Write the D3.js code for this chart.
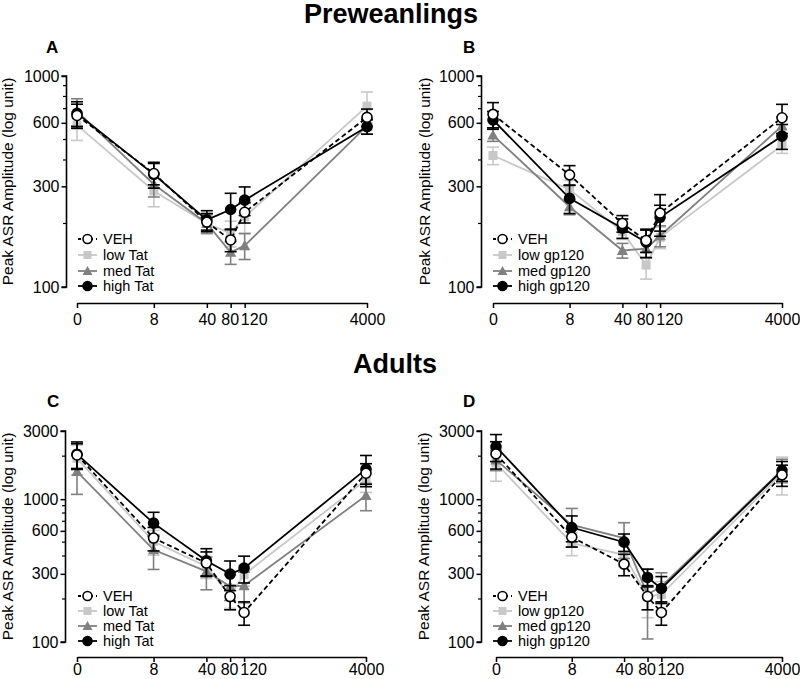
<!DOCTYPE html>
<html><head><meta charset="utf-8">
<script src="https://cdn.jsdelivr.net/npm/d3@7"></script>
<style>body{margin:0;background:#fff;}svg{display:block;font-family:"Liberation Sans",Arial,sans-serif;}</style>
</head><body>
<svg id="c" width="800" height="679"></svg>
<script>
const doses = [0, 8, 40, 80, 120, 4000];
const xTickLabels = ["0", "8", "40", "80", "120", "4000"];
const yTicksPre = [100, 300, 600, 1000];
const yTicksAdult = [100, 300, 600, 1000, 3000];
const groupsTat = ["VEH", "low Tat", "med Tat", "high Tat"];
const groupsGp = ["VEH", "low gp120", "med gp120", "high gp120"];
const sectionTitles = ["Preweanlings", "Adults"];
const panelLetters = ["A", "B", "C", "D"];
const yLabel = "Peak ASR Amplitude (log unit)";

// Panel A (Preweanlings, Tat)
const A_VEH  = [650, 345, 203, 167, 226, 637];
const A_low  = [585, 285, 200, 180, 215, 720];
const A_med  = [680, 307, 200, 146, 157, 580];
const A_high = [665, 342, 208, 233, 258, 575];
const A_VEH_err  = [85, 40, 20, 20, 25, 60];
const A_low_err  = [90, 45, 22, 25, 35, 120];
const A_med_err  = [100, 40, 20, 18, 22, 50];
const A_high_err = [90, 48, 22, 45, 40, 45];

// Panel B (Preweanlings, gp120)
const B_VEH  = [658, 340, 200, 166, 224, 634];
const B_low  = [420, 290, 183, 127, 172, 470];
const B_med  = [525, 240, 149, 152, 175, 580];
const B_high = [619, 263, 190, 163, 214, 519];
const B_VEH_err  = [90, 36, 18, 20, 50, 100];
const B_low_err  = [40, 30, 15, 18, 20, 40];
const B_med_err  = [35, 20, 12, 15, 20, 60];
const B_high_err = [60, 40, 20, 25, 30, 70];

// Panel C (Adults, Tat)
const C_VEH  = [2040, 534, 357, 208, 161, 1520];
const C_low  = [1930, 505, 338, 212, 296, 1365];
const C_med  = [1560, 442, 312, 245, 248, 1060];
const C_high = [2064, 679, 370, 299, 329, 1622];
const C_VEH_err  = [400, 100, 70, 40, 30, 250];
const C_low_err  = [450, 100, 60, 40, 50, 250];
const C_med_err  = [480, 120, 80, 50, 60, 230];
const C_high_err = [450, 130, 80, 70, 70, 400];

// Panel D (Adults, gp120)
const D_VEH  = [2074, 542, 351, 208, 161, 1479];
const D_low  = [1786, 492, 408, 208, 215, 1520];
const D_med  = [1883, 661, 534, 215, 245, 1603];
const D_high = [2333, 633, 500, 283, 237, 1585];
const D_VEH_err  = [450, 80, 60, 40, 30, 250];
const D_low_err  = [450, 90, 70, 60, 50, 450];
const D_med_err  = [300, 200, 150, 110, 60, 300];
const D_high_err = [500, 130, 70, 40, 50, 250];

const styles = [
  {color: "#000", fill: "#fff", shape: "circle", dash: "5,3"},
  {color: "#c8c8c8", fill: "#c8c8c8", shape: "square", dash: null},
  {color: "#808080", fill: "#808080", shape: "triangle", dash: null},
  {color: "#000", fill: "#000", shape: "circle", dash: null}
];

const panels = [
  {letter: panelLetters[0], names: groupsTat, vals: [A_VEH, A_low, A_med, A_high], errs: [A_VEH_err, A_low_err, A_med_err, A_high_err],
   yAxisX: 66.5, xr: [77, 367], yr: [287, 76], yd: [100, 1000], xAxisY: 303, ticks: yTicksPre, letterPos: [46, 53], ylabX: 13, legX: 78, legY: [239, 255, 271, 286], xlabY: 325},
  {letter: panelLetters[1], names: groupsGp, vals: [B_VEH, B_low, B_med, B_high], errs: [B_VEH_err, B_low_err, B_med_err, B_high_err],
   yAxisX: 481.5, xr: [493, 782], yr: [287, 76], yd: [100, 1000], xAxisY: 303, ticks: yTicksPre, letterPos: [463, 53], ylabX: 430, legX: 493, legY: [239, 255, 271, 286], xlabY: 325},
  {letter: panelLetters[2], names: groupsTat, vals: [C_VEH, C_low, C_med, C_high], errs: [C_VEH_err, C_low_err, C_med_err, C_high_err],
   yAxisX: 65.5, xr: [77, 366], yr: [642, 431], yd: [100, 3000], xAxisY: 657, ticks: yTicksAdult, letterPos: [47, 407], ylabX: 13, legX: 78, legY: [596, 611, 626, 641], xlabY: 675},
  {letter: panelLetters[3], names: groupsGp, vals: [D_VEH, D_low, D_med, D_high], errs: [D_VEH_err, D_low_err, D_med_err, D_high_err],
   yAxisX: 481.5, xr: [496, 782], yr: [642, 431], yd: [100, 3000], xAxisY: 657, ticks: yTicksAdult, letterPos: [463, 407], ylabX: 429, legX: 493, legY: [596, 611, 626, 641], xlabY: 675}
];
const xLabelShift = [0, 0, 0, -1, 9, 0];

const svg = d3.select("#c");

svg.append("text").attr("x", 391).attr("y", 23).attr("text-anchor", "middle")
  .attr("font-size", 27).attr("font-weight", "bold").text(sectionTitles[0]);
svg.append("text").attr("x", 395).attr("y", 373).attr("text-anchor", "middle")
  .attr("font-size", 27).attr("font-weight", "bold").text(sectionTitles[1]);

function marker(g, shape, cx, cy, st, size) {
  if (shape === "circle") {
    g.append("circle").attr("cx", cx).attr("cy", cy).attr("r", size)
      .attr("fill", st.fill).attr("stroke", st.color).attr("stroke-width", 1.6);
  } else if (shape === "square") {
    g.append("rect").attr("x", cx - size).attr("y", cy - size).attr("width", 2 * size).attr("height", 2 * size)
      .attr("fill", st.fill);
  } else {
    const s = size * 1.25;
    g.append("path").attr("d", `M${cx},${cy - s}L${cx + s},${cy + s * 0.8}L${cx - s},${cy + s * 0.8}Z`)
      .attr("fill", st.fill);
  }
}

panels.forEach(p => {
  const g = svg.append("g");
  const x = d3.scaleSymlog().constant(1).domain([0, 4000]).range(p.xr);
  const y = d3.scaleLog().domain(p.yd).range(p.yr);

  g.append("text").attr("x", p.letterPos[0]).attr("y", p.letterPos[1])
    .attr("font-size", 17).attr("font-weight", "bold").text(p.letter);

  const ym = (p.yr[0] + p.yr[1]) / 2;
  g.append("text").attr("transform", `translate(${p.ylabX},${ym}) rotate(-90)`)
    .attr("text-anchor", "middle").attr("font-size", 15.5).text(yLabel);

  const minor = [];
  for (let d = 100; d < p.yd[1]; d *= 10) for (let k = 2; k <= 9; k++) { const v = d * k; if (v < p.yd[1] && !p.ticks.includes(v)) minor.push(v); }
  const yAx = g.append("g").attr("transform", `translate(${p.yAxisX},0)`)
    .call(d3.axisLeft(y).tickValues(p.ticks).tickFormat(d3.format("d")).tickSize(5).tickPadding(2));
  yAx.select(".domain").attr("stroke-width", 1.6).attr("d", `M-5,${y(p.yd[0])}H0V${y(p.yd[1])}H-5`);
  yAx.selectAll(".tick line").attr("stroke-width", 1.5);
  yAx.selectAll(".tick text").attr("font-size", 16).attr("font-family", "Liberation Sans, Arial, sans-serif").attr("fill", "#000");
  yAx.selectAll(".minor").data(minor).enter().append("line").attr("class", "minor")
    .attr("x1", -3.5).attr("x2", 0).attr("y1", d => y(d)).attr("y2", d => y(d)).attr("stroke", "#000").attr("stroke-width", 1.2);

  const xAx = g.append("g").attr("transform", `translate(0,${p.xAxisY})`)
    .call(d3.axisBottom(x).tickValues(doses).tickFormat((d, i) => xTickLabels[i]).tickSize(5).tickSizeOuter(0).tickPadding(3));
  xAx.select(".domain").attr("stroke-width", 1.6);
  xAx.selectAll(".tick line").attr("stroke-width", 1.5);
  xAx.selectAll(".tick text").attr("font-size", 16).attr("font-family", "Liberation Sans, Arial, sans-serif").attr("fill", "#000")
    .attr("y", null).attr("dy", null).attr("transform", (d, i) => `translate(${xLabelShift[i]},${p.xlabY - p.xAxisY})`);

  const line = d3.line().x((d, i) => x(doses[i])).y(d => y(d));
  const order = [1, 2, 3, 0];
  order.forEach(si => {
    const st = styles[si];
    const vals = p.vals[si], errs = p.errs[si];
    const sg = g.append("g");
    vals.forEach((v, i) => {
      const cx = x(doses[i]);
      const y1 = y(v + errs[i]), y2 = y(Math.max(v - errs[i], 1));
      sg.append("line").attr("x1", cx).attr("x2", cx).attr("y1", y1).attr("y2", y2).attr("stroke", st.color).attr("stroke-width", 1.6);
      [y1, y2].forEach(yy => sg.append("line").attr("x1", cx - 6).attr("x2", cx + 6).attr("y1", yy).attr("y2", yy).attr("stroke", st.color).attr("stroke-width", 1.6));
    });
    sg.append("path").attr("d", line(vals)).attr("fill", "none").attr("stroke", st.color)
      .attr("stroke-width", 1.8).attr("stroke-dasharray", st.dash);
    vals.forEach((v, i) => marker(sg, st.shape, x(doses[i]), y(v), st, st.shape === "circle" ? 5 : 4.5));
  });

  p.names.forEach((name, i) => {
    const st = styles[i];
    const ly = p.legY[i];
    const lg = g.append("g");
    lg.append("line").attr("x1", p.legX).attr("x2", p.legX + 19).attr("y1", ly).attr("y2", ly)
      .attr("stroke", st.color).attr("stroke-width", 1.8).attr("stroke-dasharray", st.dash ? "3,3" : null);
    marker(lg, st.shape, p.legX + 9.5, ly, st, st.shape === "circle" ? 4.5 : 4);
    lg.append("text").attr("x", p.legX + 25).attr("y", ly + 5).attr("font-size", 14.5).text(name);
  });
});
</script>
</body></html>
